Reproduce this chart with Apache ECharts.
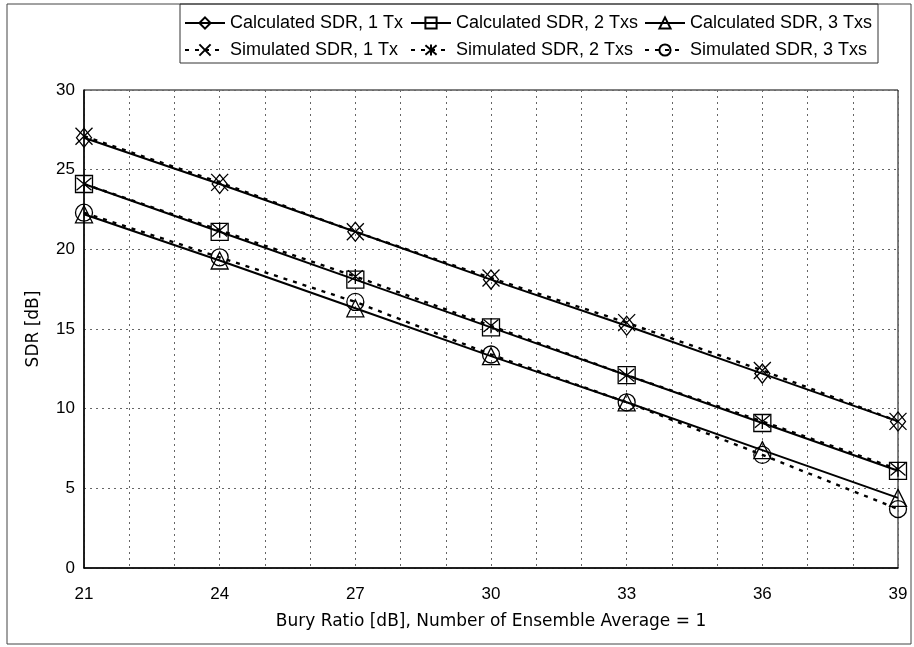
<!DOCTYPE html>
<html><head><meta charset="utf-8">
<script src="https://cdn.jsdelivr.net/npm/echarts@6/dist/echarts.min.js"></script>
<style>html,body{margin:0;padding:0;background:#fff}#c{width:914px;height:647px}</style>
</head><body><div id="c"></div>
<script>
const xValues = [21, 24, 27, 30, 33, 36, 39];
const calc1 = [27.0, 24.1, 21.1, 18.1, 15.2, 12.2, 9.2];
const sim1  = [27.1, 24.2, 21.1, 18.2, 15.4, 12.4, 9.2];
const calc2 = [24.1, 21.1, 18.1, 15.1, 12.1, 9.1, 6.1];
const sim2  = [24.1, 21.2, 18.3, 15.2, 12.1, 9.2, 6.2];
const calc3 = [22.2, 19.3, 16.3, 13.3, 10.4, 7.4, 4.4];
const sim3  = [22.3, 19.5, 16.7, 13.4, 10.4, 7.1, 3.7];
const calcNames = ['Calculated SDR, 1 Tx', 'Calculated SDR, 2 Txs', 'Calculated SDR, 3 Txs'];
const simNames  = ['Simulated SDR, 1 Tx', 'Simulated SDR, 2 Txs', 'Simulated SDR, 3 Txs'];
const xTickLabels = [21, 24, 27, 30, 33, 36, 39];
const yTickLabels = [0, 5, 10, 15, 20, 25, 30];

const FONT = 'Liberation Sans, Arial, sans-serif';
const WIDE = 'DejaVu Sans, sans-serif';
const SYM_X = 'path://M0,0L10,10M10,0L0,10';
const SYM_AST = 'path://M0,0L10,10M10,0L0,10M5,-1L5,11';

function pairs(ys) { return xValues.map((x, i) => [x, ys[i]]); }

const hollow = { color: 'rgba(0,0,0,0)', borderColor: '#000', borderWidth: 1.3 };

function calcSeries(name, ys, symbol, size) {
  return {
    name, type: 'line', data: pairs(ys), symbol, symbolSize: size,
    lineStyle: { color: '#000', width: 2, type: 'solid' },
    itemStyle: hollow, emphasis: { disabled: true }, z: 3
  };
}
function simSeries(name, ys, symbol, size) {
  return {
    name, type: 'line', data: pairs(ys), symbol, symbolSize: size,
    lineStyle: { color: '#000', width: 2.4, type: [4, 6] },
    itemStyle: hollow, emphasis: { disabled: true }, z: 4
  };
}

const colLeft = [184, 410, 644];
const rowTop = [14, 41];
const legends = [];
[calcNames, simNames].forEach((names, r) => {
  names.forEach((n, c) => {
    legends.push({
      top: rowTop[r], left: colLeft[c], padding: 0, itemWidth: 40, itemHeight: 14,
      data: [n], selectedMode: false,
      textStyle: { fontSize: 18, color: '#000', fontFamily: FONT }
    });
  });
});

const chart = echarts.init(document.getElementById('c'), null, { renderer: 'canvas' });

chart.setOption({
  animation: false,
  backgroundColor: '#fff',
  textStyle: { fontFamily: FONT },
  graphic: [
    { type: 'rect', shape: { x: 7, y: 4, width: 904, height: 640 }, style: { fill: 'none', stroke: '#444', lineWidth: 1 }, silent: true },
    { type: 'rect', shape: { x: 180, y: 4, width: 698, height: 59 }, style: { fill: 'none', stroke: '#333', lineWidth: 1 }, silent: true }
  ],
  grid: { left: 84, right: 16, top: 90, bottom: 79, show: true, borderColor: '#000', borderWidth: 1 },
  legend: legends,
  xAxis: {
    type: 'value', min: 21, max: 39, interval: 1,
    name: 'Bury Ratio [dB], Number of Ensemble Average = 1',
    nameLocation: 'middle', nameGap: 45,
    nameTextStyle: { fontSize: 17, color: '#000', fontFamily: WIDE },
    axisLine: { lineStyle: { color: '#000', width: 1.5 } },
    axisTick: { show: false },
    axisLabel: {
      fontSize: 17, color: '#000', margin: 18, fontFamily: FONT,
      formatter: v => (xTickLabels.indexOf(v) >= 0 ? String(v) : '')
    },
    splitLine: { show: true, lineStyle: { color: '#666', width: 1, type: [2, 4] } }
  },
  yAxis: {
    type: 'value', min: 0, max: 30, interval: 5,
    name: 'SDR [dB]', nameLocation: 'middle', nameGap: 42,
    nameTextStyle: { fontSize: 17, color: '#000', fontFamily: WIDE },
    axisLine: { show: true, lineStyle: { color: '#000', width: 1.5 } },
    axisTick: { show: false },
    axisLabel: { fontSize: 17, color: '#000', margin: 9, fontFamily: FONT,
      formatter: v => (yTickLabels.indexOf(v) >= 0 ? String(v) : '') },
    splitLine: { show: true, lineStyle: { color: '#666', width: 1, type: [2, 4] } }
  },
  series: [
    calcSeries(calcNames[0], calc1, 'diamond', [15, 19]),
    calcSeries(calcNames[1], calc2, 'rect', 17),
    calcSeries(calcNames[2], calc3, 'triangle', 17),
    simSeries(simNames[0], sim1, SYM_X, 17),
    simSeries(simNames[1], sim2, SYM_AST, 15),
    simSeries(simNames[2], sim3, 'circle', 17)
  ]
});
</script></body></html>
